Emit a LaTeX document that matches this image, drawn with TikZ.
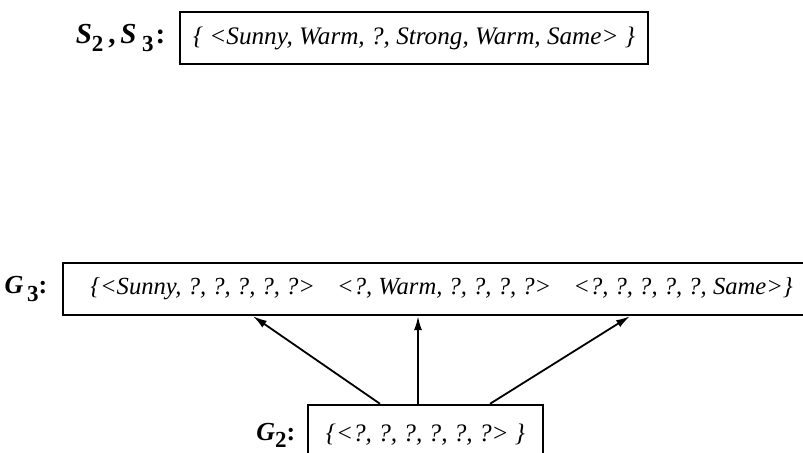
\documentclass[tikz,border=0pt]{standalone}
\usepackage{fontspec}
\setmainfont{Liberation Serif}
\usepackage{tikz}
\usetikzlibrary{
  arrows.meta,
  positioning,
  calc
}

% bold italic set name with bold subscript
\newcommand{\setname}[2]{\textbf{\textit{#1}}\raisebox{-0.6ex}{\textbf{\fontsize{11.5}{13}\selectfont #2}}}

\begin{document}
\begin{tikzpicture}[x=0.5pt,y=-0.5pt,
    hypbox/.style={draw, line width=1.2pt, inner sep=0pt,
      font=\itshape\fontsize{12.6}{15}\selectfont},
    setlabel/.style={inner sep=0pt, font=\fontsize{13}{16}\selectfont},
    link/.style={line width=0.9pt, -{Latex[length=7pt,width=4pt]}}]
    \clip (0,0) rectangle (803,453);

    % Specific boundary S_2, S_3
    \node[hypbox, minimum width=234pt, minimum height=26pt] (s23) at (414,38)
      {\{ <Sunny, Warm, ?, Strong, Warm, Same> \}};
    \node[setlabel, left=6.5pt of s23, font=\fontsize{14.5}{17}\selectfont] (s23lab)
      {\setname{S}{2}\,\textbf{,}\,\setname{S}{\ 3}\hspace{1pt}\textbf{:}};

    % General boundary G_3
    \node[hypbox, minimum width=378.5pt, minimum height=26pt, font=\itshape\fontsize{12.3}{15}\selectfont] (g3) at (441.5,289)
      {\{<Sunny, ?, ?, ?, ?, ?>\hspace{0.9em}<?, Warm, ?, ?, ?, ?>\hspace{0.9em}<?, ?, ?, ?, ?, Same>\}};
    \node[setlabel, left=7pt of g3] (g3lab) {\setname{G}{\,3}\textbf{:}};

    % General boundary G_2
    \node[hypbox, minimum width=117.5pt, minimum height=30pt] (g2) at (425.5,435)
      {\{<?, ?, ?, ?, ?, ?> \}};
    \node[setlabel, left=5.5pt of g2] (g2lab) {\setname{G}{2}\textbf{:}};

    % Specialisation steps G_2 -> G_3
    \draw[link] ([xshift=-22.75pt]g2.north) -- ([xshift=-94.25pt]g3.south);
    \draw[link] ([xshift=-3.75pt]g2.north) -- ([xshift=-11.75pt]g3.south);
    \draw[link] ([xshift=32.25pt]g2.north) -- ([xshift=94.25pt]g3.south);
\end{tikzpicture}
\end{document}
